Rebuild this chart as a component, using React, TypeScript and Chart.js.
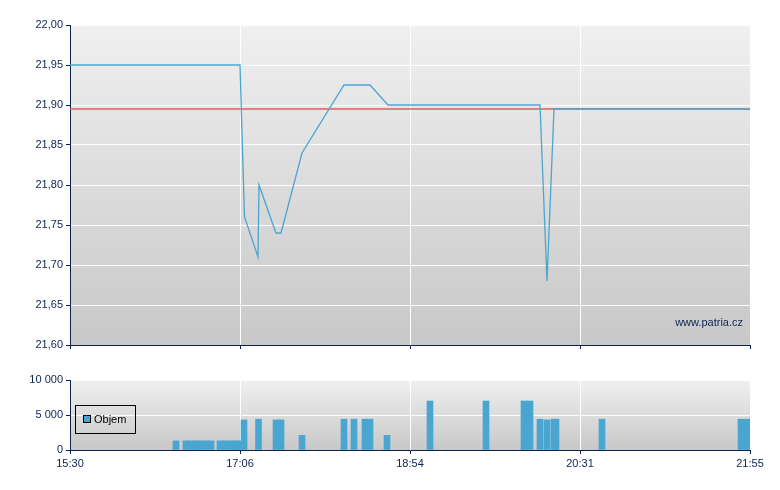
import React, { useEffect, useRef } from 'react';
import { Chart, registerables } from 'chart.js';

Chart.register(...registerables);

// ---- Data ----
const TIME_TICKS = [0, 170, 340, 510, 680];
const TIME_LABELS = ['15:30', '17:06', '18:54', '20:31', '21:55'];

const PRICE_TICKS = [21.6, 21.65, 21.7, 21.75, 21.8, 21.85, 21.9, 21.95, 22.0];
const PRICE_X = [0, 170, 174.5, 188, 189, 206, 211, 232, 274, 300, 318, 470, 477, 484, 680];
const PRICE_Y = [21.95, 21.95, 21.76, 21.71, 21.8, 21.74, 21.74, 21.84, 21.925, 21.925, 21.9, 21.9, 21.68, 21.895, 21.895];
const PREV_CLOSE = 21.895;

const VOL_TICKS = [0, 5000, 10000];
const VOL_X = [106, 116, 121, 126, 131, 136, 141, 150, 155, 160, 165, 168, 174, 188.5, 206, 211, 232, 274, 284, 295, 300, 317, 360, 416, 454, 460, 470, 477, 484, 486, 532, 671, 677];
const VOL_Y = [1300, 1300, 1300, 1300, 1300, 1300, 1300, 1300, 1300, 1300, 1300, 1300, 4300, 4400, 4300, 4300, 2100, 4400, 4400, 4400, 4400, 2100, 7000, 7000, 7000, 7000, 4400, 4300, 4400, 4400, 4400, 4400, 4400];
const VOL_LABEL = 'Objem';
const WATERMARK = 'www.patria.cz';

// ---- Styles ----
const NAVY = '#0c2352';
const BLUE = '#4aa6d0';
const RED = '#e35d5d';
const FONT = "'Liberation Sans', Arial, sans-serif";

const bgPlugin = {
  id: 'gradBg',
  beforeDraw(chart: any) {
    const { ctx, chartArea: a } = chart;
    if (!a) return;
    const g = ctx.createLinearGradient(0, a.top, 0, a.bottom);
    g.addColorStop(0, '#f0f0f0');
    g.addColorStop(1, '#c8c8c8');
    ctx.save();
    ctx.fillStyle = g;
    ctx.fillRect(a.left, a.top, a.right - a.left, a.bottom - a.top);
    ctx.restore();
  },
};

const gridColor = (c: any) => (c.index === 0 ? 'rgba(0,0,0,0)' : '#ffffff');

function xScale(showLabels: boolean, height: number) {
  return {
    type: 'linear' as const,
    min: 0,
    max: 680,
    offset: false,
    afterBuildTicks: (s: any) => {
      s.ticks = TIME_TICKS.map((v) => ({ value: v }));
    },
    afterFit: (s: any) => {
      s.height = height;
    },
    ticks: {
      display: showLabels,
      autoSkip: false,
      maxRotation: 0,
      padding: 3,
      color: NAVY,
      font: { family: FONT, size: 11 },
      callback: (_v: any, i: number) => TIME_LABELS[i],
    },
    grid: { color: gridColor, tickColor: NAVY, tickLength: 4, lineWidth: 1, offset: false },
    border: { color: NAVY, width: 1 },
  };
}

function yScale(ticks: number[], fmt: (v: number) => string) {
  return {
    type: 'linear' as const,
    min: ticks[0],
    max: ticks[ticks.length - 1],
    afterBuildTicks: (s: any) => {
      s.ticks = ticks.map((v) => ({ value: v }));
    },
    afterFit: (s: any) => {
      s.width = 70;
    },
    ticks: {
      padding: 3,
      color: NAVY,
      font: { family: FONT, size: 11 },
      callback: (v: any) => fmt(Number(v)),
    },
    grid: { color: gridColor, tickColor: NAVY, tickLength: 4, lineWidth: 1 },
    border: { color: NAVY, width: 1 },
  };
}

const fmtPrice = (v: number) => v.toFixed(2).replace('.', ',');
const fmtVol = (v: number) => String(Math.round(v)).replace(/\B(?=(\d{3})+(?!\d))/g, ' ');

export default function App() {
  const priceRef = useRef<HTMLCanvasElement>(null);
  const volRef = useRef<HTMLCanvasElement>(null);

  useEffect(() => {
    const priceChart = new Chart(priceRef.current as HTMLCanvasElement, {
      type: 'line',
      data: {
        datasets: [
          {
            label: 'Cena',
            data: PRICE_X.map((x, i) => ({ x, y: PRICE_Y[i] })),
            borderColor: BLUE,
            borderWidth: 1.3,
            pointRadius: 0,
            tension: 0,
            order: 0,
          },
          {
            label: 'Předchozí závěr',
            data: [
              { x: TIME_TICKS[0], y: PREV_CLOSE },
              { x: TIME_TICKS[TIME_TICKS.length - 1], y: PREV_CLOSE },
            ],
            borderColor: RED,
            borderWidth: 1.6,
            pointRadius: 0,
            order: 1,
          },
        ],
      },
      options: {
        responsive: false,
        animation: false,
        devicePixelRatio: 1,
        layout: { padding: { top: 25, right: 30, left: 0, bottom: 0 } },
        plugins: { legend: { display: false }, tooltip: { enabled: false } },
        scales: {
          x: xScale(false, 15),
          y: yScale(PRICE_TICKS, fmtPrice),
        },
      },
      plugins: [bgPlugin],
    } as any);

    const volChart = new Chart(volRef.current as HTMLCanvasElement, {
      type: 'bar',
      data: {
        datasets: [
          {
            label: VOL_LABEL,
            data: VOL_X.map((x, i) => ({ x, y: VOL_Y[i] })),
            backgroundColor: BLUE,
            borderWidth: 0,
            barThickness: 6,
          },
        ],
      },
      options: {
        responsive: false,
        animation: false,
        devicePixelRatio: 1,
        layout: { padding: { top: 20, right: 30, left: 0, bottom: 0 } },
        plugins: { legend: { display: false }, tooltip: { enabled: false } },
        scales: {
          x: xScale(true, 40),
          y: yScale(VOL_TICKS, fmtVol),
        },
      },
      plugins: [bgPlugin],
    } as any);

    return () => {
      priceChart.destroy();
      volChart.destroy();
    };
  }, []);

  return (
    <div style={{ position: 'fixed', left: 0, top: 0, width: 780, height: 490, background: '#fff', fontFamily: FONT }}>
      <canvas ref={priceRef} width={780} height={360} style={{ position: 'absolute', left: 0, top: 0 }} />
      <canvas ref={volRef} width={780} height={130} style={{ position: 'absolute', left: 0, top: 360 }} />
      <div
        style={{
          position: 'absolute',
          right: 37,
          top: 315,
          fontSize: 11,
          lineHeight: '14px',
          color: NAVY,
        }}
      >
        {WATERMARK}
      </div>
      <div
        style={{
          position: 'absolute',
          left: 75,
          top: 405,
          width: 59,
          height: 27,
          border: '1px solid #000',
        }}
      >
        <div
          style={{
            position: 'absolute',
            left: 7,
            top: 9,
            width: 6,
            height: 6,
            border: '1px solid #000',
            background: BLUE,
          }}
        />
        <div
          style={{
            position: 'absolute',
            left: 18,
            top: 6,
            fontSize: 11,
            lineHeight: '14px',
            color: '#000',
          }}
        >
          {VOL_LABEL}
        </div>
      </div>
    </div>
  );
}
